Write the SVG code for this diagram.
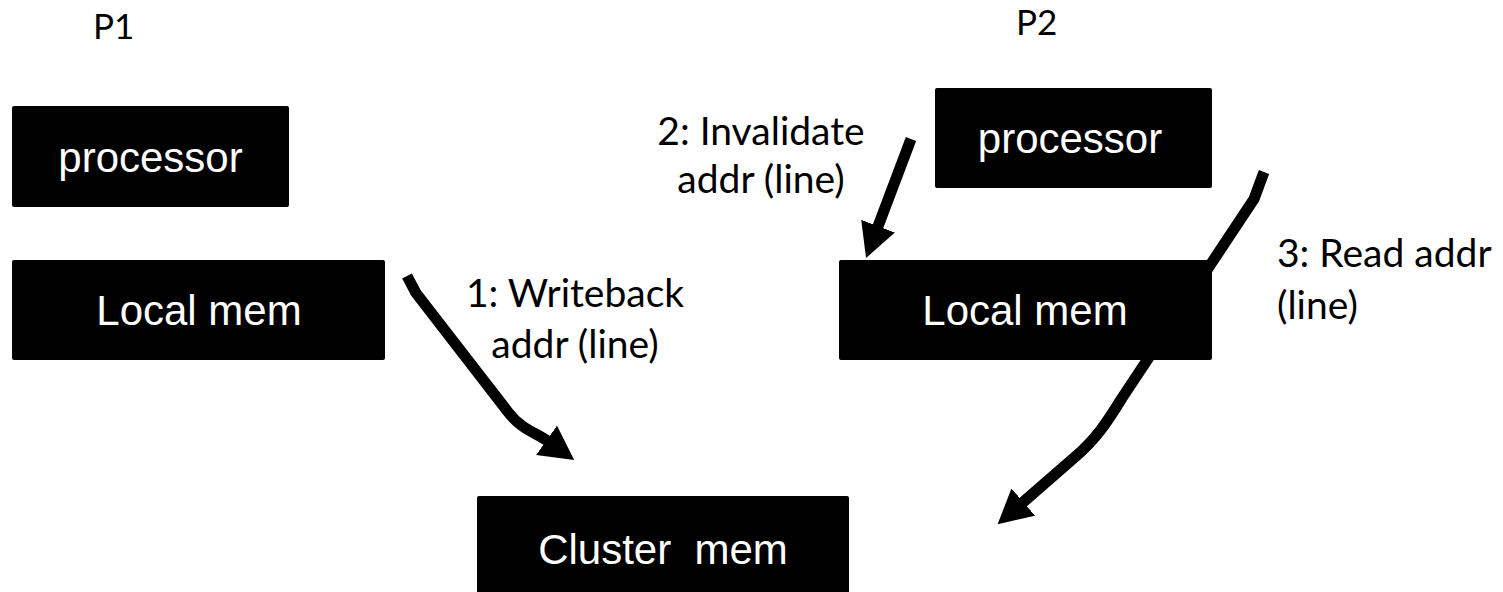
<svg xmlns="http://www.w3.org/2000/svg" width="1503" height="592" viewBox="0 0 1503 592">
  <style>
    .box { fill: #000; }
    .boxtext { fill: #fff; font-family: "Liberation Sans", Arial, sans-serif; font-size: 42px; text-anchor: middle; }
    .label { fill: #000; font-family: Lato, "Open Sans", sans-serif; font-size: 39px; }
    .title { fill: #000; font-family: Lato, "Open Sans", sans-serif; font-size: 35px; }
    .mid { text-anchor: middle; }
    .conn { fill: none; stroke: #000; stroke-width: 11; stroke-linejoin: round; }
  </style>
  <defs>
    <marker id="head" viewBox="0 0 34 36" refX="3" refY="18" markerWidth="34" markerHeight="36" markerUnits="userSpaceOnUse" orient="auto">
      <path d="M0,0 L34,18 L0,36 Z" fill="#000"/>
    </marker>
  </defs>

  <rect width="1503" height="592" fill="#fff"/>

  <!-- processor labels -->
  <text class="title" x="93" y="39">P1</text>
  <text class="title" x="1016" y="35">P2</text>

  <!-- message arrows (drawn beneath the boxes) -->
  <g id="connectors">
    <path class="conn" d="M407,276 L416,293 L508,412 C522,430 535,432 549,442" marker-end="url(#head)"/>
    <path class="conn" d="M911,139 L877,229" marker-end="url(#head)"/>
    <path class="conn" d="M1264,172 L1254,199 L1122,398 C1106,424 1095,440 1075,457 L1021,504" marker-end="url(#head)"/>
  </g>

  <g id="p1-processor">
    <rect class="box" x="12" y="106" width="277" height="101" rx="2"/>
    <text class="boxtext" x="150.5" y="172">processor</text>
  </g>
  <g id="p1-local-mem">
    <rect class="box" x="12" y="260" width="373" height="100" rx="2"/>
    <text class="boxtext" x="199" y="325">Local mem</text>
  </g>
  <g id="p2-processor">
    <rect class="box" x="935" y="88" width="277" height="100" rx="2"/>
    <text class="boxtext" x="1070" y="153">processor</text>
  </g>
  <g id="p2-local-mem">
    <rect class="box" x="839" y="260" width="373" height="100" rx="2"/>
    <text class="boxtext" x="1025" y="325">Local mem</text>
  </g>
  <g id="cluster-mem">
    <rect class="box" x="477" y="496" width="372" height="110" rx="2"/>
    <text class="boxtext" x="663" y="564" xml:space="preserve">Cluster  mem</text>
  </g>

  <!-- step labels -->
  <g id="step-labels">
    <text class="label mid" x="575" y="307">1: Writeback</text>
    <text class="label mid" x="575" y="358">addr (line)</text>
    <text class="label mid" x="761" y="145">2: Invalidate</text>
    <text class="label mid" x="761" y="193">addr (line)</text>
    <text class="label" x="1277" y="267">3: Read addr</text>
    <text class="label" x="1277" y="319">(line)</text>
  </g>
</svg>
